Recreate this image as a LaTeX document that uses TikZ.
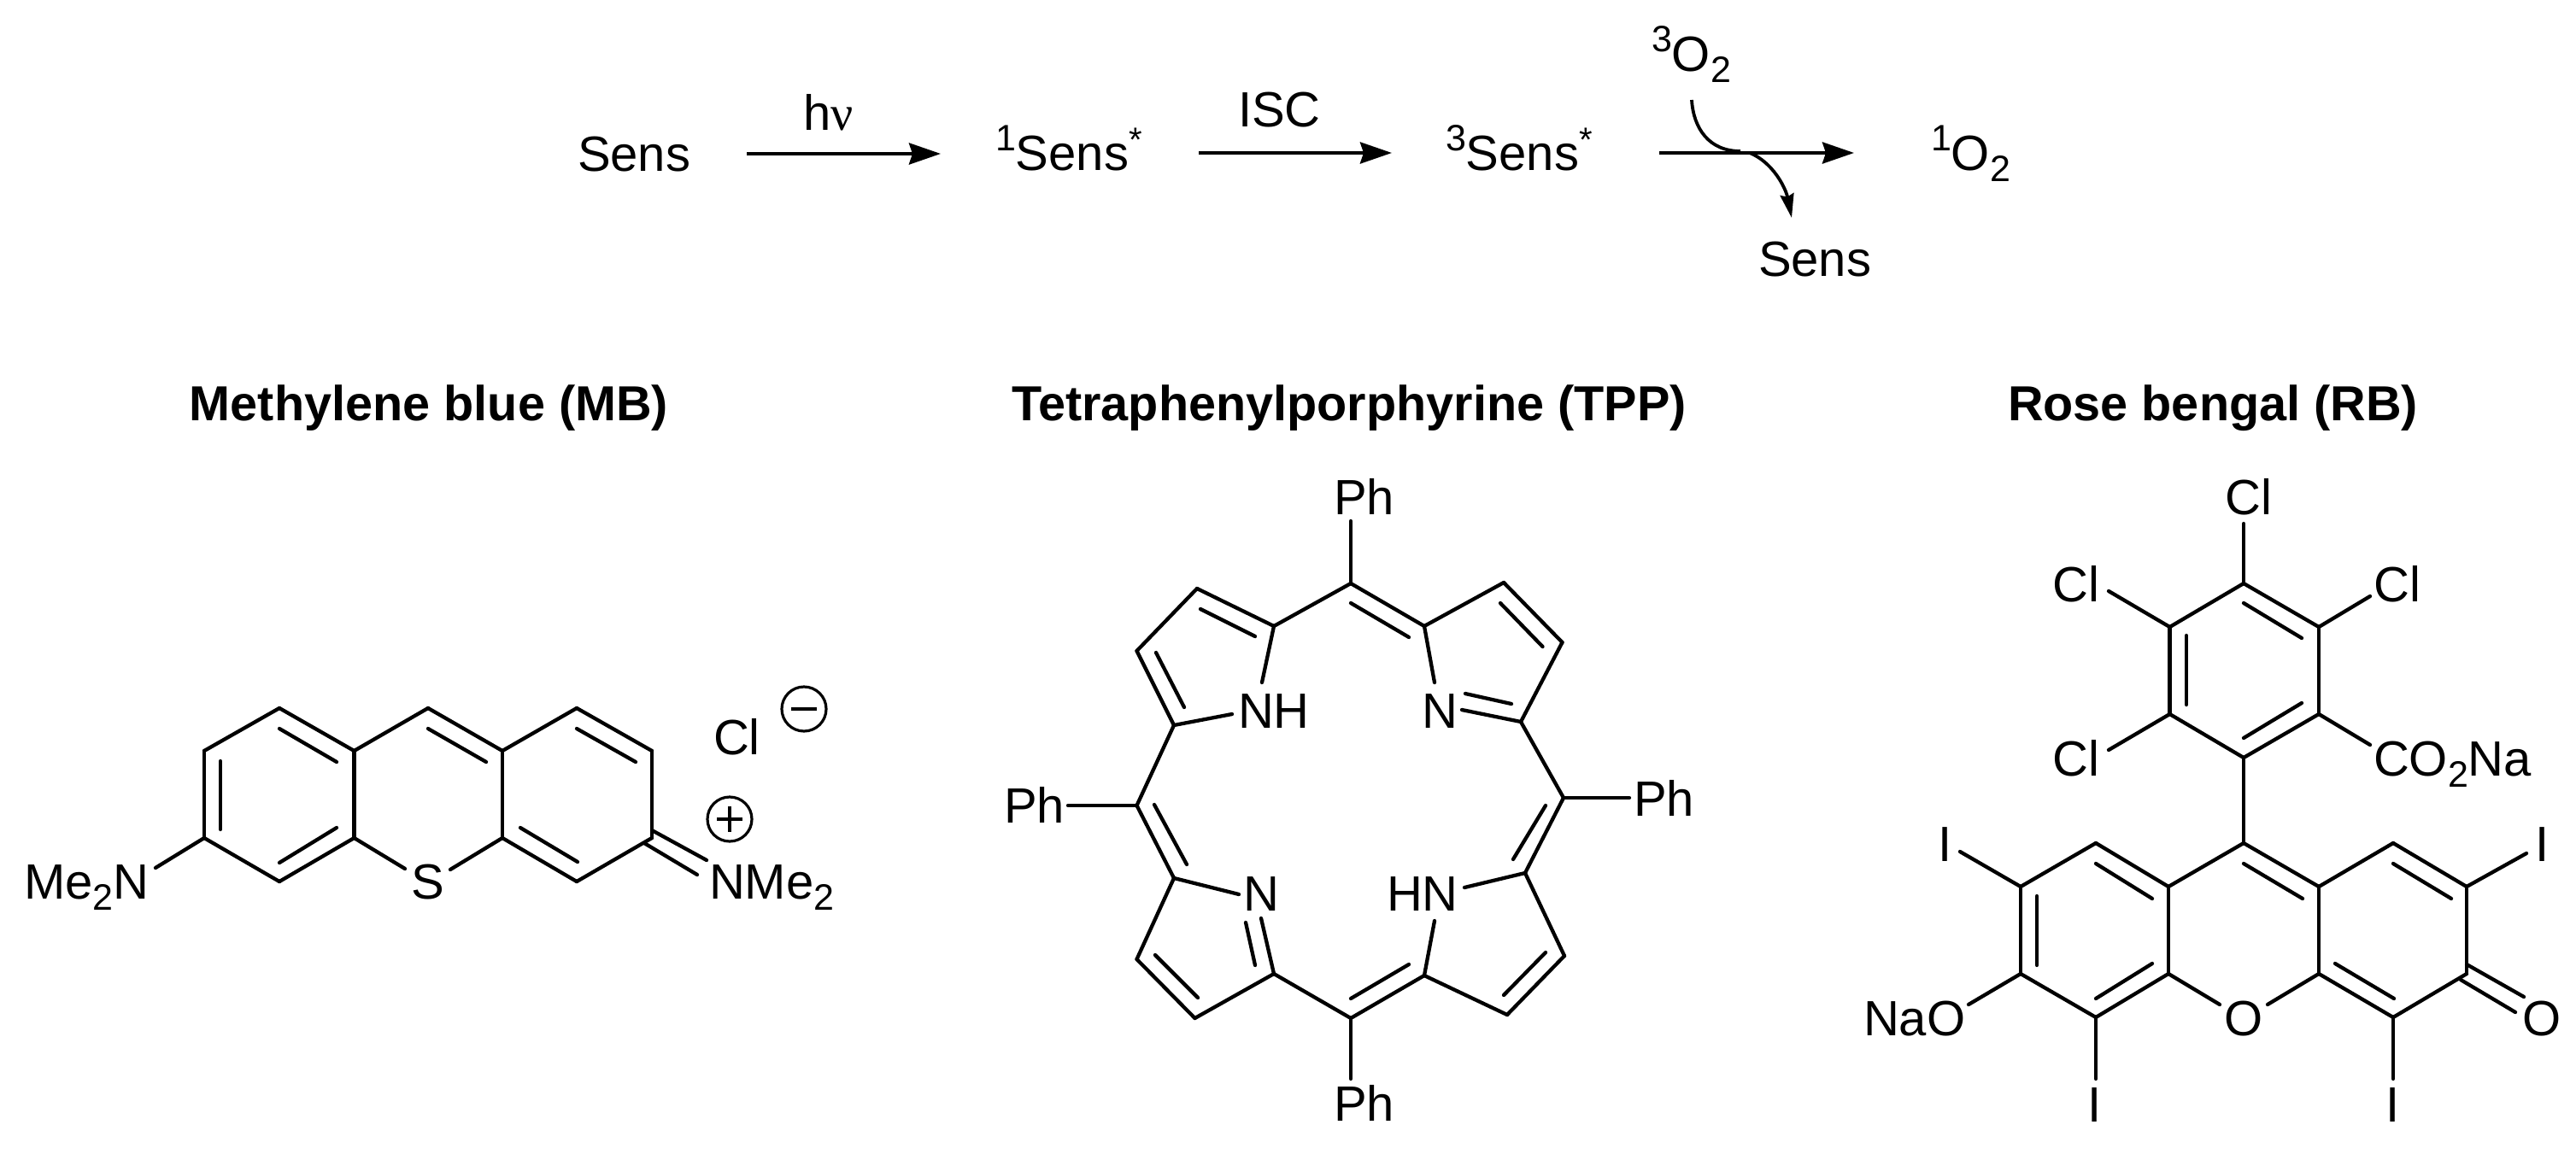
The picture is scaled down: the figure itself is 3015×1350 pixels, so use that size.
\documentclass[tikz,border=0pt]{standalone}
\usepackage{fontspec}
\setmainfont{Liberation Sans}
\newfontfamily\serfont{Liberation Serif}
\usetikzlibrary{arrows.meta,calc}
\newcommand{\chsub}[1]{\raisebox{-13pt}{\fontsize{43}{43}\selectfont #1}}
\newcommand{\chsup}[1]{\raisebox{23pt}{\fontsize{43}{43}\selectfont #1}}
\newcommand{\chstar}{\raisebox{22pt}{\fontsize{40}{40}\selectfont *}}
\newcommand{\pt}[2]{\coordinate (#1) at (#2);}
% ring bonds: closed chains between named atoms
\newcommand{\bonds}[1]{\foreach \pa/\pb in {#1} {\draw[bond] (\pa) -- (\pb);}}
% inner line of a double bond, between two named coordinates
\newcommand{\inbond}[3]{\coordinate (#1a) at (#2); \coordinate (#1b) at (#3); \draw[bond] (#1a) -- (#1b);}
\tikzset{
  bond/.style={line width=4.3pt,line cap=round,line join=round,black},
  lab/.style={inner sep=0pt,outer sep=0pt,anchor=base west,font=\fontsize{58}{60}\selectfont},
  labc/.style={inner sep=0pt,outer sep=0pt,anchor=base,font=\fontsize{58}{60}\selectfont},
  ttl/.style={inner sep=0pt,outer sep=0pt,anchor=base,font=\fontsize{57.6}{60}\selectfont\bfseries},
  rxn/.style={line width=4.2pt,-{Stealth[length=37pt,width=25pt,inset=4pt]}},
  curv/.style={line width=3.8pt},
  curvarr/.style={line width=3.8pt,-{Stealth[length=28pt,width=16pt,inset=3pt]}},
  chg/.style={circle,draw,line width=3.2pt,minimum size=52pt,inner sep=0pt}
}
\begin{document}
\begin{tikzpicture}[x=1pt,y=-1pt]
\useasboundingbox (0,0) rectangle (3015,1350);
\fill[white] (0,0) rectangle (3015,1350);

% ---------- reaction scheme ----------
\node[lab] (sens0) at (676,200) {Sens};
\node[lab] (hnu) at (940,152) {h{\serfont ν}};
\node[lab] (sens1) at (1165,199) {\chsup{1}Sens\chstar};
\node[lab] (isc) at (1449,148) {ISC};
\node[lab] (sens3) at (1692,199) {\chsup{3}Sens\chstar};
\node[lab] (o3) at (1933,83) {\chsup{3}O\chsub{2}};
\node[lab] (o1) at (2260,199) {\chsup{1}O\chsub{2}};
\node[lab] (sens4) at (2058,323) {Sens};
\pt{r1s}{874,180}\pt{r1e}{1101,180}
\pt{r2s}{1403,179}\pt{r2e}{1629,179}
\pt{r3s}{1942,179}\pt{r3e}{2170,179}
\pt{c1s}{1980,117}\pt{c1e}{2037,177}
\pt{c2s}{2048,179}\pt{c2e}{2097,255}
\draw[rxn] (r1s) -- (r1e);
\draw[rxn] (r2s) -- (r2e);
\draw[rxn] (r3s) -- (r3e);
\draw[curv] (c1s) .. controls (1982,150) and (2000,177) .. (c1e);
\draw[curvarr] (c2s) .. controls (2075,190) and (2090,220) .. (c2e);

% ---------- titles ----------
\node[ttl] (tmb) at (502,492) {Methylene blue (MB)};
\node[ttl] (ttpp) at (1579,492) {Tetraphenylporphyrine (TPP)};
\node[ttl] (trb) at (2590,492) {Rose bengal (RB)};

% ---------- methylene blue ----------
\pt{m1}{239,879}\pt{m2}{327,829}\pt{m3}{414.5,879}\pt{m4}{414.5,981}\pt{m5}{327,1032}\pt{m6}{239,981}
\pt{m7}{501,829}\pt{m8}{588,879}\pt{m9}{588,981}
\pt{m10}{675,829}\pt{m11}{763,879}\pt{m12}{763,981}\pt{m13}{675,1032}
\pt{mS1}{474,1017}\pt{mS2}{527,1018}\pt{mN1}{182,1016}
\bonds{m1/m2,m2/m3,m3/m4,m4/m5,m5/m6,m6/m1,m3/m7,m7/m8,m8/m9,m8/m10,m10/m11,m11/m12,m12/m13,m13/m9,m4/mS1,m9/mS2,m6/mN1}
\inbond{mi1}{258,891}{258,971}
\inbond{mi2}{327,853}{394,892}
\inbond{mi3}{394,969}{327,1010}
\inbond{mi4}{501,853}{569,892}
\inbond{mi5}{675,853}{744,892}
\inbond{mi6}{609,969}{676,1009}
\inbond{mi7}{763,972}{827,1007}
\inbond{mi8}{754,987}{816,1024}
\node[lab] (mbn1) at (28,1052) {Me\chsub{2}N};
\node[labc] (mbs) at (501,1052) {S};
\node[lab] (mbn2) at (830,1052) {NMe\chsub{2}};
\node[lab] (mbcl) at (835,883) {Cl};
\node[chg] (mbm) at (941,830) {};
\draw[line width=3.6pt] ($(mbm)+(-15,0)$) -- ($(mbm)+(15,0)$);
\node[chg] (mbp) at (854,959) {};
\draw[line width=3.6pt] ($(mbp)+(-15,0)$) -- ($(mbp)+(15,0)$);
\draw[line width=3.6pt] ($(mbp)+(0,-15)$) -- ($(mbp)+(0,15)$);

% ---------- TPP ----------
\pt{Mt}{1581,683}\pt{Ml}{1330.5,943}\pt{Mr}{1830,934}\pt{Mb}{1581,1192}
\pt{a1}{1491,733}\pt{b1}{1401,689}\pt{b2}{1330.5,762}\pt{a2}{1374,849}
\pt{a3}{1667,733}\pt{b3}{1760,682}\pt{b4}{1828.5,752}\pt{a4}{1780,845}
\pt{a5}{1374,1028}\pt{b5}{1330.5,1123}\pt{b6}{1398.5,1192}\pt{a6}{1491,1140}
\pt{a7}{1785,1022}\pt{b7}{1831,1119}\pt{b8}{1764,1188}\pt{a8}{1667,1142}
\pt{s1}{1477,799}\pt{s2}{1442,836}\pt{s3}{1679,799}\pt{s4}{1711,831}
\pt{s5}{1450,1047}\pt{s6}{1476,1075}\pt{s7}{1714,1039}\pt{s8}{1679,1078}
\pt{ph1}{1581,610}\pt{ph2}{1250,943}\pt{ph3}{1907,934}\pt{ph4}{1581,1263}
\bonds{Mt/a1,Mt/a3,a1/b1,b1/b2,b2/a2,a2/s2,a1/s1,a3/b3,b3/b4,b4/a4,a4/s4,a3/s3,a2/Ml,a4/Mr,Ml/a5,Mr/a7,a5/s5,a5/b5,b5/b6,b6/a6,a6/s6,a6/Mb,Mb/a8,a8/s8,a8/b8,b8/b7,b7/a7,a7/s7,Mt/ph1,Ml/ph2,Mr/ph3,Mb/ph4}
\inbond{ti1}{1405,713}{1469,745}
\inbond{ti2}{1353,764}{1386,828}
\inbond{ti3}{1581,706}{1649,746}
\inbond{ti4}{1756,706}{1805.5,757}
\inbond{ti5}{1715,812}{1769,824}
\inbond{ti6}{1351,942}{1389,1012}
\inbond{ti7}{1809,943}{1771,1006}
\inbond{ti8}{1352,1118}{1402,1168}
\inbond{ti9}{1469,1130}{1458,1080}
\inbond{ti10}{1581,1169}{1649,1129}
\inbond{ti11}{1809,1115}{1760,1165}
\node[lab] (tnh) at (1449,852) {NH};
\node[lab] (tn1) at (1664,852) {N};
\node[lab] (tn2) at (1455,1066) {N};
\node[lab] (thn) at (1623,1066) {HN};
\node[lab] (tph1) at (1561,602) {Ph};
\node[lab] (tph2) at (1175,963) {Ph};
\node[lab] (tph3) at (1912,955) {Ph};
\node[lab] (tph4) at (1561,1312) {Ph};

% ---------- rose bengal ----------
\pt{r1}{2626,683}\pt{r2}{2714,734}\pt{r3}{2714,836}\pt{r4}{2626,887}\pt{r5}{2539.5,836}\pt{r6}{2539.5,734}
\pt{x1}{2453,987}\pt{x2}{2538,1038}\pt{x3}{2538,1140}\pt{x4}{2453,1191}\pt{x5}{2365,1140}\pt{x6}{2365,1038}
\pt{x7}{2626,987}\pt{x8}{2714,1038}\pt{x9}{2714,1140}
\pt{x10}{2801,987}\pt{x11}{2887,1038}\pt{x12}{2887,1140}\pt{x13}{2801,1191}
\pt{e1}{2626,613}\pt{e2}{2468,692}\pt{e3}{2774,698}\pt{e4}{2468,878}\pt{e5}{2774,872}
\pt{e6}{2294,997}\pt{e7}{2957,999}\pt{e8}{2304,1176}\pt{e9}{2453,1263}\pt{e10}{2801,1263}
\pt{e11}{2598,1176}\pt{e12}{2654,1176}
\bonds{r1/r2,r2/r3,r3/r4,r4/r5,r5/r6,r6/r1,r4/x7,x1/x2,x2/x3,x3/x4,x4/x5,x5/x6,x6/x1,x2/x7,x7/x8,x8/x9,x8/x10,x10/x11,x11/x12,x12/x13,x13/x9,x3/e11,x9/e12,r1/e1,r6/e2,r2/e3,r5/e4,r3/e5,x6/e6,x11/e7,x5/e8,x4/e9,x13/e10}
\inbond{ri1}{2626,706}{2694,747}
\inbond{ri2}{2559,744}{2559,825}
\inbond{ri3}{2694,823}{2626,864}
\inbond{ri4}{2453,1011}{2519,1052}
\inbond{ri5}{2384,1049}{2384,1130}
\inbond{ri6}{2519,1128}{2453,1169}
\inbond{ri7}{2626,1011}{2695,1052}
\inbond{ri8}{2801,1011}{2869,1052}
\inbond{ri9}{2733,1128}{2802,1169}
\inbond{ri10}{2887,1129}{2954,1167}
\inbond{ri11}{2880,1147}{2944,1185}
\node[labc] (rcl1) at (2632,602) {Cl};
\node[labc] (rcl2) at (2430,704) {Cl};
\node[labc] (rcl3) at (2806,704) {Cl};
\node[labc] (rcl4) at (2430,908) {Cl};
\node[lab] (rco) at (2778,908) {CO\chsub{2}Na};
\node[labc] (ri1n) at (2276.5,1008) {I};
\node[labc] (ri2n) at (2976,1008) {I};
\node[labc] (ri3n) at (2452,1313) {I};
\node[labc] (ri4n) at (2801,1313) {I};
\node[lab] (rnao) at (2181,1212) {NaO};
\node[labc] (rox) at (2626,1212) {O};
\node[labc] (rox2) at (2975.5,1212) {O};
\end{tikzpicture}
\end{document}
